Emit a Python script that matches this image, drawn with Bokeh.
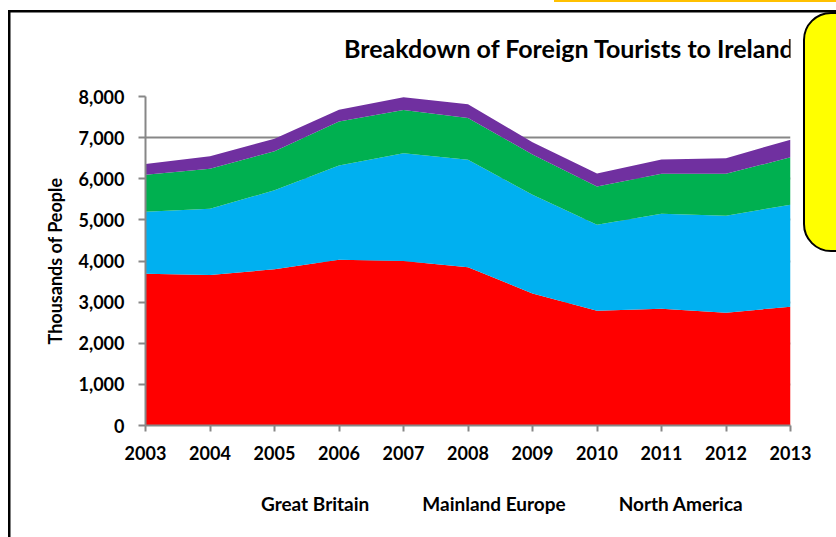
from bokeh.plotting import figure
from bokeh.models import (FixedTicker, NumeralTickFormatter, Legend, Range1d,
                          ColumnDataSource, Label)
from bokeh.layouts import column
from bokeh.embed import file_html
from bokeh.resources import INLINE

years = [2003, 2004, 2005, 2006, 2007, 2008, 2009, 2010, 2011, 2012, 2013]
great_britain = [3690, 3660, 3800, 4030, 4000, 3850, 3210, 2790, 2840, 2740, 2890]
mainland_europe = [1510, 1610, 1920, 2290, 2620, 2610, 2400, 2090, 2310, 2360, 2480]
north_america = [900, 975, 950, 1070, 1050, 1020, 980, 930, 970, 1020, 1150]
other_areas = [260, 305, 300, 290, 310, 330, 300, 320, 350, 380, 430]

series_names = ["Great Britain", "Mainland Europe", "North America", "Other Areas"]
series_keys = ["gb", "eu", "na", "oa"]
colors = ["#FF0000", "#00B0F0", "#00B050", "#7030A0"]
y_ticks = [0, 1000, 2000, 3000, 4000, 5000, 6000, 7000, 8000]
title_text = "Breakdown of Foreign Tourists to Ireland"

FONT = "Lato"
GRID = "#878787"

source = ColumnDataSource(dict(year=years, gb=great_britain, eu=mainland_europe,
                               na=north_america, oa=other_areas))

# ---- title strip ----
pt = figure(width=836, height=80, output_backend="svg", toolbar_location=None,
            x_axis_type=None, y_axis_type=None, min_border=0,
            x_range=Range1d(0, 1), y_range=Range1d(0, 1))
pt.outline_line_color = None
pt.background_fill_alpha = 0
pt.border_fill_alpha = 0
pt.add_layout(Label(x=424, y=33, x_units="screen", y_units="screen", text=title_text,
                    text_font=FONT, text_font_style="bold", text_font_size="25px",
                    text_align="center", text_baseline="middle", text_color="black"))

# ---- main chart ----
p = figure(frame_width=645, frame_height=329, output_backend="svg", toolbar_location=None,
           x_range=Range1d(2003, 2013), y_range=Range1d(0, 8000),
           min_border_left=145, min_border_right=46, min_border_top=16,
           min_border_bottom=58)
p.outline_line_color = None
p.background_fill_color = "white"
p.border_fill_alpha = 0

renderers = p.varea_stack(stackers=series_keys, x="year", color=colors, source=source)

p.xgrid.visible = False
p.ygrid.ticker = FixedTicker(ticks=y_ticks)
p.ygrid.grid_line_color = GRID
p.ygrid.grid_line_width = 2
p.ygrid.level = "underlay"

p.yaxis.ticker = FixedTicker(ticks=y_ticks)
p.yaxis.formatter = NumeralTickFormatter(format="0,0")
p.xaxis.ticker = FixedTicker(ticks=years)
for ax in (p.xaxis, p.yaxis):
    ax.axis_line_color = GRID
    ax.axis_line_width = 2
    ax.major_tick_line_color = GRID
    ax.major_tick_line_width = 2
    ax.minor_tick_line_color = None
    ax.major_tick_in = 0
    ax.major_label_text_font = FONT
    ax.major_label_text_font_style = "bold"
    ax.major_label_text_font_size = "18px"
    ax.major_label_text_color = "black"
p.yaxis.major_tick_out = 7
p.yaxis.major_label_standoff = 14
p.xaxis.major_tick_out = 6
p.xaxis.major_label_standoff = 14
p.yaxis.axis_label = "Thousands of People"
p.yaxis.axis_label_text_font = FONT
p.yaxis.axis_label_text_font_style = "bold"
p.yaxis.axis_label_text_font_size = "18px"
p.yaxis.axis_label_text_color = "black"
p.yaxis.axis_label_standoff = 10

# ---- legend strip (legend keys mirror the stacked area colours) ----
pl = figure(width=836, height=54, output_backend="svg", toolbar_location=None,
            x_axis_type=None, y_axis_type=None, min_border=0,
            x_range=Range1d(0, 1), y_range=Range1d(0, 1))
pl.outline_line_color = None
pl.background_fill_alpha = 0
pl.border_fill_alpha = 0
keys = [pl.varea(x=[], y1=[], y2=[], color=c) for c in colors]
legend = Legend(items=[(n, [r]) for n, r in zip(series_names, keys)],
                orientation="horizontal", location=(98, 22),
                glyph_width=13, glyph_height=13, label_height=13,
                label_standoff=5, spacing=35, padding=0, margin=0,
                border_line_color=None, background_fill_alpha=0,
                label_text_font=FONT, label_text_font_style="bold",
                label_text_font_size="19px", label_text_color="black")
pl.add_layout(legend, "center")

root = column(pt, p, pl, spacing=0)

# page decorations: outer chart border, orange strip, yellow callout
root.styles = {
    "position": "relative",
    "overflow": "hidden",
    "background": ("linear-gradient(#FFC000,#FFC000) 554px 0px / 320px 2px no-repeat, "
                   "linear-gradient(#000,#000) 8px 10px / 900px 2.5px no-repeat, "
                   "linear-gradient(#000,#000) 8px 10px / 2.5px 600px no-repeat, "
                   "#ffffff"),
}
root.stylesheets = [
    ":host::after { content: ''; position: absolute; left: 803px; top: 12px; "
    "width: 80px; height: 236px; background: #FFFF00; border: 2px solid #000; "
    "border-radius: 28px; z-index: 5; pointer-events: none; }"
]

open("out.html", "w").write(file_html(root, INLINE))
